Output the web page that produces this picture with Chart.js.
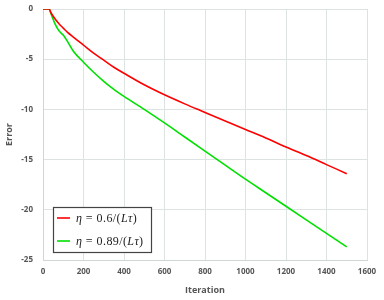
<!DOCTYPE html>
<html><head><meta charset="utf-8">
<script src="https://cdn.jsdelivr.net/npm/chart.js@4"></script>
<style>html,body{margin:0;padding:0;background:#fff}#wrap{width:384px;height:300px;position:relative}</style>
</head><body><div id="wrap"><canvas id="c" width="384" height="300"></canvas></div>
<script>
const iterations = [0, 30, 40, 60, 80, 100, 120, 150, 200, 250, 300, 350, 400, 500, 600, 700, 800, 900, 1000, 1100, 1200, 1300, 1400, 1500];
const redErr   = [0, 0, -0.4, -1.0, -1.5, -1.9, -2.3, -2.8, -3.6, -4.4, -5.1, -5.8, -6.4, -7.55, -8.55, -9.45, -10.3, -11.15, -12.0, -12.85, -13.75, -14.6, -15.5, -16.4];
const greenErr = [0, 0, -0.5, -1.5, -2.2, -2.6, -3.2, -4.2, -5.3, -6.3, -7.2, -8.0, -8.7, -10.0, -11.35, -12.75, -14.15, -15.55, -16.95, -18.3, -19.65, -21.0, -22.35, -23.7];
const xTicks = [0, 200, 400, 600, 800, 1000, 1200, 1400, 1600];
const yTicks = [0, -5, -10, -15, -20, -25];
const seriesLabels = ['\u03b7 = 0.6/(L\u03c4)', '\u03b7 = 0.89/(L\u03c4)'];
const seriesColors = ['#ff0000', '#00e000'];

const toPts = arr => iterations.map((x, i) => ({x, y: arr[i]}));
const italicChars = '\u03b7L\u03c4';

const legendPlugin = {
  id: 'boxLegend',
  afterDraw(chart) {
    const ctx = chart.ctx, a = chart.chartArea;
    const x0 = a.left + 10, y0 = a.bottom - 53, w = 98, h = 45;
    ctx.save();
    ctx.fillStyle = '#fff';
    ctx.fillRect(x0, y0, w, h);
    ctx.strokeStyle = '#444';
    ctx.lineWidth = 1.2;
    ctx.strokeRect(x0 + 0.5, y0 + 0.5, w, h);
    chart.data.datasets.forEach((ds, i) => {
      const yy = y0 + 11 + i * 23;
      ctx.strokeStyle = ds.borderColor;
      ctx.lineWidth = 1.6;
      ctx.beginPath(); ctx.moveTo(x0 + 4, yy); ctx.lineTo(x0 + 17, yy); ctx.stroke();
      ctx.fillStyle = '#222';
      ctx.textBaseline = 'middle';
      let tx = x0 + 23;
      for (const ch of ds.label) {
        if (ch === ' ') { tx += 3.5; continue; }
        ctx.font = (italicChars.includes(ch) ? 'italic ' : '') + '12px "Liberation Serif", serif';
        ctx.fillText(ch, tx, yy + 1);
        tx += ctx.measureText(ch).width + (ch === '=' ? 0.5 : 0.4);
      }
    });
    ctx.restore();
  }
};

new Chart(document.getElementById('c'), {
  type: 'line',
  data: {
    datasets: [
      {label: seriesLabels[0], data: toPts(redErr), borderColor: seriesColors[0], borderWidth: 1.6, pointRadius: 0, cubicInterpolationMode: 'monotone', fill: false},
      {label: seriesLabels[1], data: toPts(greenErr), borderColor: seriesColors[1], borderWidth: 1.6, pointRadius: 0, cubicInterpolationMode: 'monotone', fill: false}
    ]
  },
  options: {
    responsive: false, animation: false,
    layout: {autoPadding: false, padding: {top: 9, right: 17, left: 0, bottom: 0}},
    plugins: {legend: {display: false}, tooltip: {enabled: false}},
    scales: {
      x: {
        type: 'linear', min: 0, max: 1600,
        afterBuildTicks: s => { s.ticks = xTicks.map(v => ({value: v})); },
        afterFit: s => { s.height = 40; s.paddingLeft = 0; s.paddingRight = 0; },
        grid: {color: '#dde3e3', drawTicks: false},
        border: {color: '#d0d6d6'},
        ticks: {color: '#555', font: {family: 'Open Sans', size: 8, weight: 'bold'}, padding: 7, callback: v => String(v)},
        title: {display: true, text: 'Iteration', color: '#555', font: {family: 'Open Sans', size: 9, weight: 'bold'}, padding: {top: 2}}
      },
      y: {
        min: -25, max: 0,
        afterBuildTicks: s => { s.ticks = yTicks.map(v => ({value: v})); },
        afterFit: s => { s.width = 43; s.paddingTop = 0; s.paddingBottom = 0; },
        grid: {color: '#dde3e3', drawTicks: false},
        border: {color: '#d0d6d6'},
        ticks: {color: '#555', font: {family: 'Open Sans', size: 8, weight: 'bold'}, padding: 10, callback: v => String(v)},
        title: {display: true, text: 'Error', color: '#555', font: {family: 'Open Sans', size: 9, weight: 'bold'}, padding: {bottom: 2}}
      }
    }
  },
  plugins: [legendPlugin]
});
</script></body></html>
